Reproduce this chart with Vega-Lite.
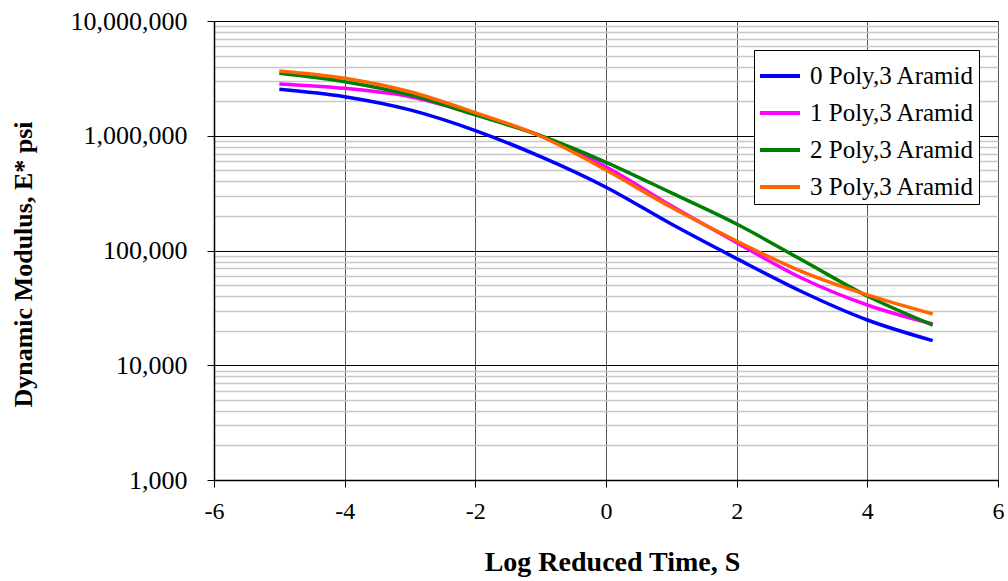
{
  "$schema": "https://vega.github.io/schema/vega-lite/v6.json",
  "width": 784,
  "height": 459,
  "autosize": {"type": "none"},
  "padding": {"left": 214, "top": 21, "right": 10, "bottom": 101},
  "background": "white",
  "config": {
    "view": {"stroke": "black", "strokeWidth": 1},
    "font": "Liberation Serif",
    "axis": {"labelFont": "Liberation Serif", "titleFont": "Liberation Serif", "labelColor": "black", "titleColor": "black", "domainColor": "black", "tickColor": "black"},
    "legend": {"labelFont": "Liberation Serif"}
  },
  "data": {
    "values": [
      {"t": -5, "E": 2540000, "s": "0 Poly,3 Aramid"},
      {"t": -4, "E": 2190000, "s": "0 Poly,3 Aramid"},
      {"t": -3, "E": 1680000, "s": "0 Poly,3 Aramid"},
      {"t": -2, "E": 1110000, "s": "0 Poly,3 Aramid"},
      {"t": -1, "E": 657000, "s": "0 Poly,3 Aramid"},
      {"t": 0, "E": 356000, "s": "0 Poly,3 Aramid"},
      {"t": 1, "E": 170000, "s": "0 Poly,3 Aramid"},
      {"t": 2, "E": 85000, "s": "0 Poly,3 Aramid"},
      {"t": 3, "E": 43700, "s": "0 Poly,3 Aramid"},
      {"t": 4, "E": 24800, "s": "0 Poly,3 Aramid"},
      {"t": 5, "E": 16400, "s": "0 Poly,3 Aramid"},
      {"t": -5, "E": 2830000, "s": "1 Poly,3 Aramid"},
      {"t": -4, "E": 2590000, "s": "1 Poly,3 Aramid"},
      {"t": -3, "E": 2190000, "s": "1 Poly,3 Aramid"},
      {"t": -2, "E": 1540000, "s": "1 Poly,3 Aramid"},
      {"t": -1, "E": 1000000, "s": "1 Poly,3 Aramid"},
      {"t": 0, "E": 537000, "s": "1 Poly,3 Aramid"},
      {"t": 1, "E": 245000, "s": "1 Poly,3 Aramid"},
      {"t": 2, "E": 117000, "s": "1 Poly,3 Aramid"},
      {"t": 3, "E": 57300, "s": "1 Poly,3 Aramid"},
      {"t": 4, "E": 33500, "s": "1 Poly,3 Aramid"},
      {"t": 5, "E": 22900, "s": "1 Poly,3 Aramid"},
      {"t": -5, "E": 3500000, "s": "2 Poly,3 Aramid"},
      {"t": -4, "E": 2960000, "s": "2 Poly,3 Aramid"},
      {"t": -3, "E": 2270000, "s": "2 Poly,3 Aramid"},
      {"t": -2, "E": 1520000, "s": "2 Poly,3 Aramid"},
      {"t": -1, "E": 1000000, "s": "2 Poly,3 Aramid"},
      {"t": 0, "E": 587000, "s": "2 Poly,3 Aramid"},
      {"t": 1, "E": 318000, "s": "2 Poly,3 Aramid"},
      {"t": 2, "E": 170000, "s": "2 Poly,3 Aramid"},
      {"t": 3, "E": 82600, "s": "2 Poly,3 Aramid"},
      {"t": 4, "E": 40100, "s": "2 Poly,3 Aramid"},
      {"t": 5, "E": 22400, "s": "2 Poly,3 Aramid"},
      {"t": -5, "E": 3670000, "s": "3 Poly,3 Aramid"},
      {"t": -4, "E": 3170000, "s": "3 Poly,3 Aramid"},
      {"t": -3, "E": 2420000, "s": "3 Poly,3 Aramid"},
      {"t": -2, "E": 1590000, "s": "3 Poly,3 Aramid"},
      {"t": -1, "E": 990000, "s": "3 Poly,3 Aramid"},
      {"t": 0, "E": 503000, "s": "3 Poly,3 Aramid"},
      {"t": 1, "E": 238000, "s": "3 Poly,3 Aramid"},
      {"t": 2, "E": 121000, "s": "3 Poly,3 Aramid"},
      {"t": 3, "E": 65400, "s": "3 Poly,3 Aramid"},
      {"t": 4, "E": 41000, "s": "3 Poly,3 Aramid"},
      {"t": 5, "E": 28000, "s": "3 Poly,3 Aramid"}
    ]
  },
  "mark": {"type": "line", "interpolate": "monotone", "strokeWidth": 3.5, "clip": true},
  "encoding": {
    "x": {
      "field": "t", "type": "quantitative",
      "scale": {"domain": [-6, 6], "nice": false, "zero": false},
      "axis": {
        "values": [-6, -4, -2, 0, 2, 4, 6],
        "labelExpr": "datum.value < 0 ? '-' + abs(datum.value) : '' + datum.value",
        "title": "Log Reduced Time, S",
        "titleFontSize": 28, "titleFontWeight": "bold",
        "titleX": 398, "titleY": 82, "titleBaseline": "middle",
        "labelFontSize": 24, "labelPadding": 12, "labelFlush": false,
        "tickSize": 7, "domainWidth": 1.5,
        "grid": true, "gridColor": "#555555", "gridWidth": 1
      }
    },
    "y": {
      "field": "E", "type": "quantitative",
      "scale": {"type": "log", "domain": [1000, 10000000], "nice": false},
      "axis": {
        "values": [1000, 2000, 3000, 4000, 5000, 6000, 7000, 8000, 9000,
                   10000, 20000, 30000, 40000, 50000, 60000, 70000, 80000, 90000,
                   100000, 200000, 300000, 400000, 500000, 600000, 700000, 800000, 900000,
                   1000000, 2000000, 3000000, 4000000, 5000000, 6000000, 7000000, 8000000, 9000000,
                   10000000],
        "labelExpr": "indexof([1000,10000,100000,1000000,10000000], datum.value) >= 0 ? format(datum.value, ',') : ''",
        "title": "Dynamic Modulus, E* psi",
        "titleFontSize": 26, "titleFontWeight": "bold",
        "titleX": -191, "titleY": 243, "titleBaseline": "middle",
        "labelFontSize": 26, "labelPadding": 20,
        "tickSize": 7, "domainWidth": 1.5,
        "tickOpacity": {"condition": {"test": "indexof([1000,10000,100000,1000000,10000000], datum.value) >= 0", "value": 1}, "value": 0},
        "grid": true,
        "gridColor": {"condition": {"test": "indexof([1000,10000,100000,1000000,10000000], datum.value) >= 0", "value": "black"}, "value": "#c8c8c8"},
        "gridWidth": {"condition": {"test": "indexof([1000,10000,100000,1000000,10000000], datum.value) >= 0", "value": 1}, "value": 1.5}
      }
    },
    "color": {
      "field": "s", "type": "nominal",
      "scale": {"domain": ["0 Poly,3 Aramid", "1 Poly,3 Aramid", "2 Poly,3 Aramid", "3 Poly,3 Aramid"],
                "range": ["#0000FF", "#FF00FF", "#008000", "#FF6600"]},
      "legend": {
        "title": null, "orient": "none", "legendX": 540, "legendY": 29,
        "symbolType": "stroke", "symbolStrokeWidth": 4, "symbolSize": 1600,
        "labelFontSize": 25, "labelColor": "black", "labelLimit": 300, "labelOffset": 8,
        "rowPadding": 2, "padding": 4,
        "strokeColor": "black", "fillColor": "white"
      }
    }
  }
}
